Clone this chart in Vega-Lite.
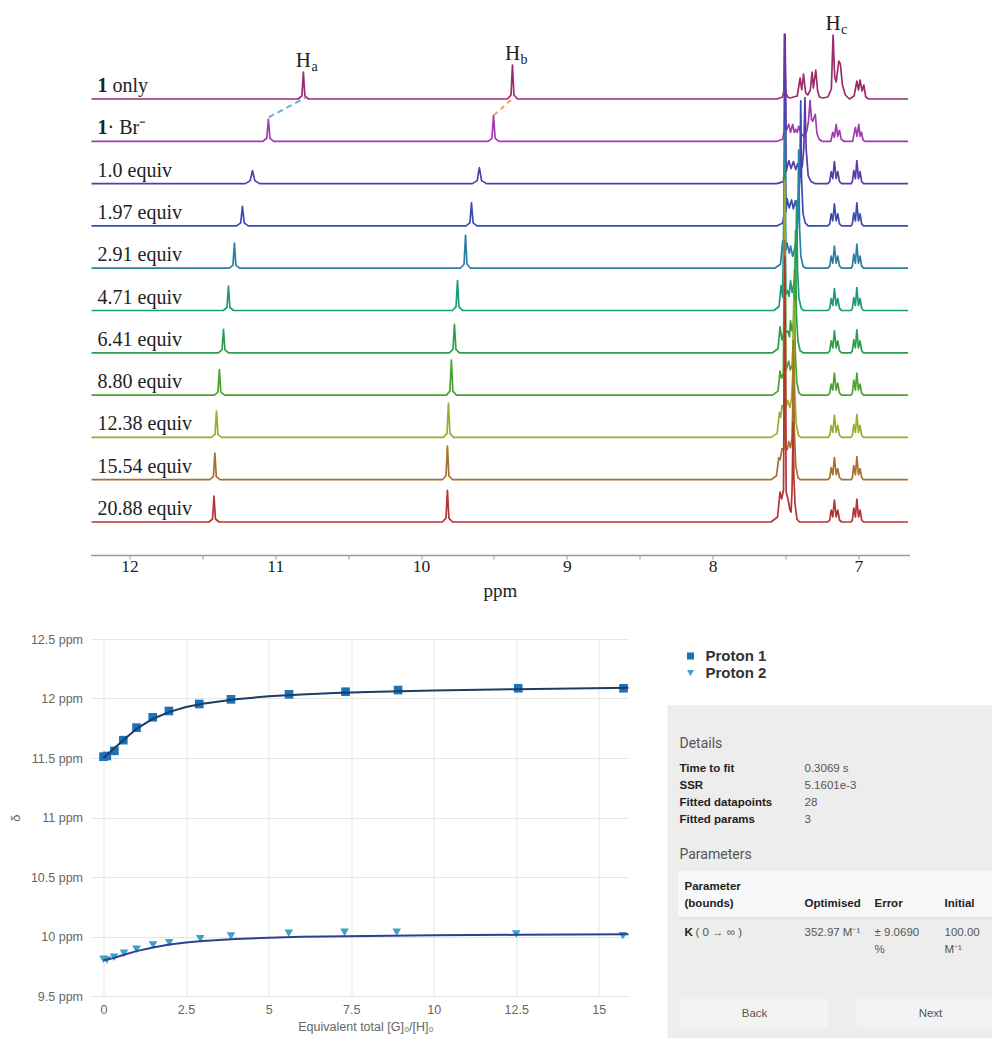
{
"$schema": "https://vega.github.io/schema/vega-lite/v6.json",
"background": "white",
"padding": {"left": 9.5, "top": 13, "right": 0, "bottom": 0},
"config": {"view": {"stroke": null}},
"columns": 1,
"align": "none",
"spacing": 32,
"concat": [
{
"data": {"values": [
{"i":0,"x":12.26,"y":0},{"i":0,"x":10.842,"y":0},{"i":0,"x":10.817,"y":3.2},{"i":0,"x":10.807,"y":27},{"i":0,"x":10.797,"y":3.2},{"i":0,"x":10.772,"y":0},
{"i":0,"x":9.408,"y":0},{"i":0,"x":9.383,"y":4},{"i":0,"x":9.373,"y":34},{"i":0,"x":9.363,"y":4},{"i":0,"x":9.338,"y":0},
{"i":0,"x":7.56,"y":0},{"i":0,"x":7.52,"y":2},{"i":0,"x":7.512,"y":8},{"i":0,"x":7.508,"y":65},{"i":0,"x":7.499,"y":6},{"i":0,"x":7.485,"y":2},{"i":0,"x":7.47,"y":1},{"i":0,"x":7.42,"y":3},{"i":0,"x":7.4,"y":21},{"i":0,"x":7.389,"y":9},{"i":0,"x":7.377,"y":25},{"i":0,"x":7.362,"y":6},{"i":0,"x":7.348,"y":4},{"i":0,"x":7.33,"y":9},{"i":0,"x":7.318,"y":27},{"i":0,"x":7.309,"y":11},{"i":0,"x":7.293,"y":29},{"i":0,"x":7.28,"y":8},{"i":0,"x":7.268,"y":2},{"i":0,"x":7.245,"y":1},{"i":0,"x":7.21,"y":2},{"i":0,"x":7.186,"y":10},{"i":0,"x":7.174,"y":64},{"i":0,"x":7.163,"y":22},{"i":0,"x":7.153,"y":17},{"i":0,"x":7.135,"y":38},{"i":0,"x":7.124,"y":35},{"i":0,"x":7.11,"y":14},{"i":0,"x":7.09,"y":4},{"i":0,"x":7.062,"y":0},{"i":0,"x":7.03,"y":3},{"i":0,"x":7.011,"y":18},{"i":0,"x":7.0,"y":9},{"i":0,"x":6.989,"y":19},{"i":0,"x":6.975,"y":8},{"i":0,"x":6.963,"y":14},{"i":0,"x":6.95,"y":2},{"i":0,"x":6.93,"y":0},{"i":0,"x":6.66,"y":0},

{"i":1,"x":12.26,"y":0},{"i":1,"x":11.085,"y":0},{"i":1,"x":11.058,"y":3},{"i":1,"x":11.047,"y":22},{"i":1,"x":11.036,"y":3},{"i":1,"x":11.01,"y":0},
{"i":1,"x":9.54,"y":0},{"i":1,"x":9.514,"y":3},{"i":1,"x":9.503,"y":26},{"i":1,"x":9.492,"y":3},{"i":1,"x":9.466,"y":0},
{"i":1,"x":7.56,"y":0},{"i":1,"x":7.52,"y":2},{"i":1,"x":7.51,"y":10},{"i":1,"x":7.504,"y":107},{"i":1,"x":7.497,"y":10},{"i":1,"x":7.478,"y":17},{"i":1,"x":7.466,"y":9},{"i":1,"x":7.451,"y":17},{"i":1,"x":7.44,"y":9},{"i":1,"x":7.43,"y":12},{"i":1,"x":7.42,"y":9},{"i":1,"x":7.41,"y":15},{"i":1,"x":7.395,"y":8},{"i":1,"x":7.375,"y":5},{"i":1,"x":7.355,"y":10},{"i":1,"x":7.343,"y":20},{"i":1,"x":7.332,"y":41},{"i":1,"x":7.322,"y":22},{"i":1,"x":7.314,"y":20},{"i":1,"x":7.296,"y":27},{"i":1,"x":7.285,"y":8},{"i":1,"x":7.27,"y":2},{"i":1,"x":7.25,"y":0},{"i":1,"x":7.19,"y":0},{"i":1,"x":7.176,"y":9},{"i":1,"x":7.165,"y":4},{"i":1,"x":7.153,"y":17},{"i":1,"x":7.142,"y":5},{"i":1,"x":7.13,"y":11},{"i":1,"x":7.118,"y":2},{"i":1,"x":7.1,"y":0},{"i":1,"x":7.04,"y":0},{"i":1,"x":7.021,"y":14},{"i":1,"x":7.01,"y":5},{"i":1,"x":6.998,"y":17},{"i":1,"x":6.988,"y":5},{"i":1,"x":6.98,"y":9},{"i":1,"x":6.968,"y":1},{"i":1,"x":6.955,"y":0},{"i":1,"x":6.66,"y":0},

{"i":2,"x":12.26,"y":0},{"i":2,"x":11.205,"y":0},{"i":2,"x":11.172,"y":3},{"i":2,"x":11.156,"y":13},{"i":2,"x":11.14,"y":3},{"i":2,"x":11.107,"y":0},
{"i":2,"x":9.648,"y":0},{"i":2,"x":9.615,"y":3},{"i":2,"x":9.6,"y":16},{"i":2,"x":9.585,"y":3},{"i":2,"x":9.552,"y":0},
{"i":2,"x":7.56,"y":0},{"i":2,"x":7.515,"y":2},{"i":2,"x":7.509,"y":12},{"i":2,"x":7.503,"y":149},{"i":2,"x":7.496,"y":12},{"i":2,"x":7.478,"y":23},{"i":2,"x":7.462,"y":15},{"i":2,"x":7.446,"y":22},{"i":2,"x":7.43,"y":14},{"i":2,"x":7.416,"y":20},{"i":2,"x":7.4,"y":12},{"i":2,"x":7.385,"y":18},{"i":2,"x":7.375,"y":35},{"i":2,"x":7.367,"y":86},{"i":2,"x":7.359,"y":35},{"i":2,"x":7.345,"y":8},{"i":2,"x":7.325,"y":2},{"i":2,"x":7.3,"y":0},
{"i":2,"x":7.21,"y":0},{"i":2,"x":7.197,"y":2},{"i":2,"x":7.187,"y":12},{"i":2,"x":7.176,"y":5},{"i":2,"x":7.165,"y":22},{"i":2,"x":7.153,"y":5},{"i":2,"x":7.142,"y":12},{"i":2,"x":7.13,"y":2},{"i":2,"x":7.115,"y":0},{"i":2,"x":7.05,"y":0},{"i":2,"x":7.042,"y":2},{"i":2,"x":7.032,"y":13},{"i":2,"x":7.021,"y":5},{"i":2,"x":7.011,"y":23},{"i":2,"x":7.0,"y":5},{"i":2,"x":6.989,"y":12},{"i":2,"x":6.978,"y":2},{"i":2,"x":6.965,"y":0},{"i":2,"x":6.66,"y":0},

{"i":3,"x":12.26,"y":0},{"i":3,"x":11.265,"y":0},{"i":3,"x":11.237,"y":3},{"i":3,"x":11.225,"y":19.5},{"i":3,"x":11.213,"y":3},{"i":3,"x":11.185,"y":0},
{"i":3,"x":9.692,"y":0},{"i":3,"x":9.665,"y":3},{"i":3,"x":9.654,"y":23},{"i":3,"x":9.643,"y":3},{"i":3,"x":9.616,"y":0},
{"i":3,"x":7.56,"y":0},{"i":3,"x":7.52,"y":3},{"i":3,"x":7.509,"y":12},{"i":3,"x":7.504,"y":126},{"i":3,"x":7.497,"y":14},{"i":3,"x":7.489,"y":27},{"i":3,"x":7.475,"y":18},{"i":3,"x":7.459,"y":26},{"i":3,"x":7.447,"y":17},{"i":3,"x":7.434,"y":25},{"i":3,"x":7.42,"y":16},{"i":3,"x":7.41,"y":28},{"i":3,"x":7.402,"y":50},{"i":3,"x":7.396,"y":125},{"i":3,"x":7.39,"y":45},{"i":3,"x":7.38,"y":12},{"i":3,"x":7.365,"y":3},{"i":3,"x":7.345,"y":0},
{"i":3,"x":7.21,"y":0},{"i":3,"x":7.197,"y":2},{"i":3,"x":7.187,"y":12},{"i":3,"x":7.176,"y":5},{"i":3,"x":7.165,"y":22},{"i":3,"x":7.153,"y":5},{"i":3,"x":7.142,"y":12},{"i":3,"x":7.13,"y":2},{"i":3,"x":7.115,"y":0},{"i":3,"x":7.05,"y":0},{"i":3,"x":7.042,"y":2},{"i":3,"x":7.032,"y":13},{"i":3,"x":7.021,"y":5},{"i":3,"x":7.011,"y":23},{"i":3,"x":7.0,"y":5},{"i":3,"x":6.989,"y":12},{"i":3,"x":6.978,"y":2},{"i":3,"x":6.965,"y":0},{"i":3,"x":6.66,"y":0},

{"i":4,"x":12.26,"y":0},{"i":4,"x":11.315,"y":0},{"i":4,"x":11.29,"y":3},{"i":4,"x":11.28,"y":25},{"i":4,"x":11.27,"y":3},{"i":4,"x":11.245,"y":0},
{"i":4,"x":9.73,"y":0},{"i":4,"x":9.705,"y":4},{"i":4,"x":9.695,"y":33},{"i":4,"x":9.685,"y":4},{"i":4,"x":9.66,"y":0},
{"i":4,"x":7.575,"y":0},{"i":4,"x":7.535,"y":4},{"i":4,"x":7.52,"y":27},{"i":4,"x":7.512,"y":16},{"i":4,"x":7.505,"y":138},{"i":4,"x":7.498,"y":18},{"i":4,"x":7.489,"y":25},{"i":4,"x":7.475,"y":15},{"i":4,"x":7.465,"y":22},{"i":4,"x":7.452,"y":12},{"i":4,"x":7.44,"y":18},{"i":4,"x":7.425,"y":28},{"i":4,"x":7.416,"y":50},{"i":4,"x":7.41,"y":118},{"i":4,"x":7.404,"y":40},{"i":4,"x":7.395,"y":12},{"i":4,"x":7.38,"y":2},{"i":4,"x":7.36,"y":0},
{"i":4,"x":7.21,"y":0},{"i":4,"x":7.197,"y":2},{"i":4,"x":7.187,"y":12},{"i":4,"x":7.176,"y":5},{"i":4,"x":7.165,"y":22},{"i":4,"x":7.153,"y":5},{"i":4,"x":7.142,"y":12},{"i":4,"x":7.13,"y":2},{"i":4,"x":7.115,"y":0},{"i":4,"x":7.05,"y":0},{"i":4,"x":7.042,"y":2},{"i":4,"x":7.032,"y":14},{"i":4,"x":7.021,"y":5},{"i":4,"x":7.011,"y":24},{"i":4,"x":7.0,"y":5},{"i":4,"x":6.989,"y":12},{"i":4,"x":6.978,"y":2},{"i":4,"x":6.965,"y":0},{"i":4,"x":6.66,"y":0},

{"i":5,"x":12.26,"y":0},{"i":5,"x":11.356,"y":0},{"i":5,"x":11.331,"y":3},{"i":5,"x":11.321,"y":24.5},{"i":5,"x":11.311,"y":3},{"i":5,"x":11.286,"y":0},
{"i":5,"x":9.785,"y":0},{"i":5,"x":9.76,"y":3.6},{"i":5,"x":9.75,"y":30},{"i":5,"x":9.74,"y":3.6},{"i":5,"x":9.715,"y":0},
{"i":5,"x":7.58,"y":0},{"i":5,"x":7.545,"y":4},{"i":5,"x":7.531,"y":25},{"i":5,"x":7.52,"y":13},{"i":5,"x":7.507,"y":150},{"i":5,"x":7.498,"y":16},{"i":5,"x":7.487,"y":20},{"i":5,"x":7.476,"y":14},{"i":5,"x":7.466,"y":30},{"i":5,"x":7.455,"y":18},{"i":5,"x":7.445,"y":25},{"i":5,"x":7.435,"y":35},{"i":5,"x":7.429,"y":55},{"i":5,"x":7.424,"y":110},{"i":5,"x":7.418,"y":40},{"i":5,"x":7.408,"y":12},{"i":5,"x":7.392,"y":2},{"i":5,"x":7.375,"y":0},
{"i":5,"x":7.21,"y":0},{"i":5,"x":7.197,"y":2},{"i":5,"x":7.187,"y":12},{"i":5,"x":7.176,"y":5},{"i":5,"x":7.165,"y":22},{"i":5,"x":7.153,"y":5},{"i":5,"x":7.142,"y":12},{"i":5,"x":7.13,"y":2},{"i":5,"x":7.115,"y":0},{"i":5,"x":7.05,"y":0},{"i":5,"x":7.042,"y":2},{"i":5,"x":7.032,"y":13},{"i":5,"x":7.021,"y":5},{"i":5,"x":7.011,"y":23},{"i":5,"x":7.0,"y":5},{"i":5,"x":6.989,"y":12},{"i":5,"x":6.978,"y":2},{"i":5,"x":6.965,"y":0},{"i":5,"x":6.66,"y":0},

{"i":6,"x":12.26,"y":0},{"i":6,"x":11.39,"y":0},{"i":6,"x":11.365,"y":3},{"i":6,"x":11.355,"y":23.5},{"i":6,"x":11.345,"y":3},{"i":6,"x":11.32,"y":0},
{"i":6,"x":9.806,"y":0},{"i":6,"x":9.781,"y":3.4},{"i":6,"x":9.771,"y":28.5},{"i":6,"x":9.761,"y":3.4},{"i":6,"x":9.736,"y":0},
{"i":6,"x":7.59,"y":0},{"i":6,"x":7.552,"y":4},{"i":6,"x":7.538,"y":26},{"i":6,"x":7.525,"y":13},{"i":6,"x":7.512,"y":20},{"i":6,"x":7.507,"y":178},{"i":6,"x":7.5,"y":20},{"i":6,"x":7.485,"y":22},{"i":6,"x":7.473,"y":16},{"i":6,"x":7.466,"y":32},{"i":6,"x":7.456,"y":22},{"i":6,"x":7.445,"y":30},{"i":6,"x":7.438,"y":55},{"i":6,"x":7.432,"y":122},{"i":6,"x":7.426,"y":40},{"i":6,"x":7.415,"y":12},{"i":6,"x":7.4,"y":2},{"i":6,"x":7.38,"y":0},
{"i":6,"x":7.21,"y":0},{"i":6,"x":7.197,"y":2},{"i":6,"x":7.187,"y":12},{"i":6,"x":7.176,"y":5},{"i":6,"x":7.165,"y":22},{"i":6,"x":7.153,"y":5},{"i":6,"x":7.142,"y":12},{"i":6,"x":7.13,"y":2},{"i":6,"x":7.115,"y":0},{"i":6,"x":7.05,"y":0},{"i":6,"x":7.042,"y":2},{"i":6,"x":7.032,"y":13},{"i":6,"x":7.021,"y":5},{"i":6,"x":7.011,"y":23},{"i":6,"x":7.0,"y":5},{"i":6,"x":6.989,"y":12},{"i":6,"x":6.978,"y":2},{"i":6,"x":6.965,"y":0},{"i":6,"x":6.66,"y":0},

{"i":7,"x":12.26,"y":0},{"i":7,"x":11.418,"y":0},{"i":7,"x":11.393,"y":3},{"i":7,"x":11.383,"y":25.5},{"i":7,"x":11.373,"y":3},{"i":7,"x":11.348,"y":0},
{"i":7,"x":9.827,"y":0},{"i":7,"x":9.802,"y":4},{"i":7,"x":9.792,"y":35},{"i":7,"x":9.782,"y":4},{"i":7,"x":9.757,"y":0},
{"i":7,"x":7.59,"y":0},{"i":7,"x":7.552,"y":4},{"i":7,"x":7.538,"y":24},{"i":7,"x":7.527,"y":17},{"i":7,"x":7.515,"y":22},{"i":7,"x":7.506,"y":215},{"i":7,"x":7.498,"y":24},{"i":7,"x":7.478,"y":34},{"i":7,"x":7.468,"y":25},{"i":7,"x":7.455,"y":30},{"i":7,"x":7.446,"y":60},{"i":7,"x":7.44,"y":125},{"i":7,"x":7.434,"y":45},{"i":7,"x":7.423,"y":13},{"i":7,"x":7.408,"y":2},{"i":7,"x":7.39,"y":0},
{"i":7,"x":7.21,"y":0},{"i":7,"x":7.197,"y":2},{"i":7,"x":7.187,"y":11},{"i":7,"x":7.176,"y":5},{"i":7,"x":7.165,"y":22},{"i":7,"x":7.153,"y":5},{"i":7,"x":7.142,"y":12},{"i":7,"x":7.13,"y":2},{"i":7,"x":7.115,"y":0},{"i":7,"x":7.05,"y":0},{"i":7,"x":7.042,"y":2},{"i":7,"x":7.032,"y":15},{"i":7,"x":7.021,"y":5},{"i":7,"x":7.011,"y":22},{"i":7,"x":7.0,"y":5},{"i":7,"x":6.989,"y":11},{"i":7,"x":6.978,"y":2},{"i":7,"x":6.965,"y":0},{"i":7,"x":6.66,"y":0},

{"i":8,"x":12.26,"y":0},{"i":8,"x":11.438,"y":0},{"i":8,"x":11.413,"y":3},{"i":8,"x":11.403,"y":26.4},{"i":8,"x":11.393,"y":3},{"i":8,"x":11.368,"y":0},
{"i":8,"x":9.847,"y":0},{"i":8,"x":9.822,"y":4},{"i":8,"x":9.812,"y":34.4},{"i":8,"x":9.802,"y":4},{"i":8,"x":9.777,"y":0},
{"i":8,"x":7.6,"y":0},{"i":8,"x":7.558,"y":4},{"i":8,"x":7.542,"y":25},{"i":8,"x":7.533,"y":20},{"i":8,"x":7.524,"y":32},{"i":8,"x":7.512,"y":28},{"i":8,"x":7.506,"y":257},{"i":8,"x":7.498,"y":30},{"i":8,"x":7.485,"y":37},{"i":8,"x":7.47,"y":30},{"i":8,"x":7.458,"y":40},{"i":8,"x":7.45,"y":65},{"i":8,"x":7.444,"y":137},{"i":8,"x":7.438,"y":50},{"i":8,"x":7.427,"y":14},{"i":8,"x":7.412,"y":2},{"i":8,"x":7.395,"y":0},
{"i":8,"x":7.21,"y":0},{"i":8,"x":7.197,"y":2},{"i":8,"x":7.187,"y":12},{"i":8,"x":7.176,"y":5},{"i":8,"x":7.165,"y":22},{"i":8,"x":7.153,"y":5},{"i":8,"x":7.142,"y":12},{"i":8,"x":7.13,"y":2},{"i":8,"x":7.115,"y":0},{"i":8,"x":7.05,"y":0},{"i":8,"x":7.042,"y":2},{"i":8,"x":7.032,"y":13},{"i":8,"x":7.021,"y":5},{"i":8,"x":7.011,"y":23},{"i":8,"x":7.0,"y":5},{"i":8,"x":6.989,"y":12},{"i":8,"x":6.978,"y":2},{"i":8,"x":6.965,"y":0},{"i":8,"x":6.66,"y":0},

{"i":9,"x":12.26,"y":0},{"i":9,"x":11.449,"y":0},{"i":9,"x":11.424,"y":3},{"i":9,"x":11.414,"y":26.7},{"i":9,"x":11.404,"y":3},{"i":9,"x":11.379,"y":0},
{"i":9,"x":9.854,"y":0},{"i":9,"x":9.829,"y":4},{"i":9,"x":9.819,"y":33.7},{"i":9,"x":9.809,"y":4},{"i":9,"x":9.784,"y":0},
{"i":9,"x":7.6,"y":0},{"i":9,"x":7.562,"y":4},{"i":9,"x":7.547,"y":22},{"i":9,"x":7.537,"y":20},{"i":9,"x":7.524,"y":31},{"i":9,"x":7.512,"y":30},{"i":9,"x":7.506,"y":239},{"i":9,"x":7.499,"y":33},{"i":9,"x":7.488,"y":30},{"i":9,"x":7.478,"y":38},{"i":9,"x":7.466,"y":32},{"i":9,"x":7.456,"y":42},{"i":9,"x":7.451,"y":70},{"i":9,"x":7.446,"y":139},{"i":9,"x":7.44,"y":50},{"i":9,"x":7.43,"y":14},{"i":9,"x":7.415,"y":2},{"i":9,"x":7.4,"y":0},
{"i":9,"x":7.21,"y":0},{"i":9,"x":7.197,"y":2},{"i":9,"x":7.187,"y":12},{"i":9,"x":7.176,"y":5},{"i":9,"x":7.165,"y":22},{"i":9,"x":7.153,"y":5},{"i":9,"x":7.142,"y":11},{"i":9,"x":7.13,"y":2},{"i":9,"x":7.115,"y":0},{"i":9,"x":7.05,"y":0},{"i":9,"x":7.042,"y":2},{"i":9,"x":7.032,"y":14},{"i":9,"x":7.021,"y":5},{"i":9,"x":7.011,"y":23},{"i":9,"x":7.0,"y":5},{"i":9,"x":6.989,"y":11},{"i":9,"x":6.978,"y":2},{"i":9,"x":6.965,"y":0},{"i":9,"x":6.66,"y":0},

{"i":10,"x":12.26,"y":0},{"i":10,"x":11.455,"y":0},{"i":10,"x":11.43,"y":3},{"i":10,"x":11.42,"y":26},{"i":10,"x":11.41,"y":3},{"i":10,"x":11.385,"y":0},
{"i":10,"x":9.854,"y":0},{"i":10,"x":9.829,"y":3.8},{"i":10,"x":9.819,"y":31.7},{"i":10,"x":9.809,"y":3.8},{"i":10,"x":9.784,"y":0},
{"i":10,"x":7.6,"y":0},{"i":10,"x":7.555,"y":5},{"i":10,"x":7.538,"y":30},{"i":10,"x":7.527,"y":23},{"i":10,"x":7.514,"y":32},{"i":10,"x":7.505,"y":265},{"i":10,"x":7.496,"y":30},{"i":10,"x":7.482,"y":22},{"i":10,"x":7.47,"y":12},{"i":10,"x":7.462,"y":10},{"i":10,"x":7.456,"y":30},{"i":10,"x":7.452,"y":60},{"i":10,"x":7.448,"y":100},{"i":10,"x":7.443,"y":45},{"i":10,"x":7.435,"y":18},{"i":10,"x":7.422,"y":3},{"i":10,"x":7.405,"y":0},
{"i":10,"x":7.21,"y":0},{"i":10,"x":7.197,"y":2},{"i":10,"x":7.187,"y":12},{"i":10,"x":7.176,"y":5},{"i":10,"x":7.165,"y":22},{"i":10,"x":7.153,"y":5},{"i":10,"x":7.142,"y":12},{"i":10,"x":7.13,"y":2},{"i":10,"x":7.115,"y":0},{"i":10,"x":7.05,"y":0},{"i":10,"x":7.042,"y":2},{"i":10,"x":7.032,"y":14},{"i":10,"x":7.021,"y":5},{"i":10,"x":7.011,"y":23},{"i":10,"x":7.0,"y":5},{"i":10,"x":6.989,"y":12},{"i":10,"x":6.978,"y":2},{"i":10,"x":6.965,"y":0},{"i":10,"x":6.66,"y":0},

{"i":1,"g":"a","x":10.788,"y":44},{"i":1,"g":"a","x":11.045,"y":24},
{"i":1,"g":"b","x":9.371,"y":43},{"i":1,"g":"b","x":9.501,"y":26},

{"i":0,"h":"H","sub":"a","hx":10.807,"ph":27},{"i":0,"h":"H","sub":"b","hx":9.373,"ph":34},{"i":0,"h":"H","sub":"c","hx":7.174,"ph":64},

{"i":0,"b":"1","lab":"only"},{"i":1,"b":"1","lab":"· Br⁻"},{"i":2,"lab":"1.0 equiv"},{"i":3,"lab":"1.97 equiv"},{"i":4,"lab":"2.91 equiv"},{"i":5,"lab":"4.71 equiv"},{"i":6,"lab":"6.41 equiv"},{"i":7,"lab":"8.80 equiv"},{"i":8,"lab":"12.38 equiv"},{"i":9,"lab":"15.54 equiv"},{"i":10,"lab":"20.88 equiv"}
]},
"facet": {"row": {"field": "i", "type": "ordinal", "header": {"title": null, "labels": false}}},
"spacing": {"row": 0.3},
"bounds": "flush",
"spec": {
  "width": 819, "height": 42,
  "encoding": {
    "x": {"field": "x", "type": "quantitative",
      "scale": {"domain": [6.65, 12.267], "reverse": true, "nice": false, "zero": false},
      "axis": {"values": [12, 11.5, 11, 10.5, 10, 9.5, 9, 8.5, 8, 7.5, 7],
        "labelExpr": "datum.value % 1 == 0 ? format(datum.value, 'd') : ''",
        "offset": 32, "grid": false, "domainColor": "#9a9a9a", "domainWidth": 1.5, "tickColor": "#9a9a9a", "tickSize": 4,
        "labelFont": "Liberation Serif", "labelFontSize": 17.5, "labelColor": "#222", "labelPadding": -2,
        "title": "ppm", "titleFont": "Liberation Serif", "titleFontSize": 19, "titleFontWeight": "normal", "titleColor": "#222", "titlePadding": 7}},
    "y": {"field": "y", "type": "quantitative",
      "scale": {"domain": [0, 42], "nice": false, "zero": false},
      "axis": {"labels": false, "ticks": false, "domain": false, "grid": false, "title": null, "minExtent": 62, "maxExtent": 62}}
  },
  "layer": [
    {"transform": [{"filter": "isValid(datum.y) && !isValid(datum.g)"}],
     "mark": {"type": "line", "strokeWidth": 1.7, "strokeJoin": "round", "clip": false},
     "encoding": {"color": {"field": "i", "type": "nominal", "legend": null,
       "scale": {"domain": [0,1,2,3,4,5,6,7,8,9,10], "range": ["#9c2b6e","#a03cb0","#5b3ba6","#3a4cb0","#2b7fa3","#1b9a7c","#2f9e48","#4aa332","#9eab2c","#a8702c","#b53434"]}}}},
    {"transform": [{"filter": "datum.g == 'a'"}],
     "mark": {"type": "line", "color": "#6aaee2", "strokeWidth": 2, "strokeDash": [6, 4]}},
    {"transform": [{"filter": "datum.g == 'b'"}],
     "mark": {"type": "line", "color": "#f2a064", "strokeWidth": 2, "strokeDash": [5, 4]}},
    {"transform": [
       {"joinaggregate": [{"op": "max", "field": "x", "as": "x0"}, {"op": "min", "field": "y", "as": "y0"}], "groupby": ["i"]},
       {"filter": "isValid(datum.lab) && !isValid(datum.b)"}],
     "mark": {"type": "text", "align": "left", "baseline": "alphabetic", "font": "Liberation Serif", "fontSize": 20, "color": "#222", "dx": 6, "dy": -7},
     "encoding": {"x": {"field": "x0", "type": "quantitative"}, "y": {"field": "y0", "type": "quantitative"}, "text": {"field": "lab"}}},
    {"transform": [
       {"joinaggregate": [{"op": "max", "field": "x", "as": "x0"}, {"op": "min", "field": "y", "as": "y0"}], "groupby": ["i"]},
       {"filter": "isValid(datum.b)"}],
     "mark": {"type": "text", "align": "left", "baseline": "alphabetic", "font": "Liberation Serif", "fontSize": 20, "fontWeight": "bold", "color": "#222", "dx": 6, "dy": -7},
     "encoding": {"x": {"field": "x0", "type": "quantitative"}, "y": {"field": "y0", "type": "quantitative"}, "text": {"field": "b"}}},
    {"transform": [
       {"joinaggregate": [{"op": "max", "field": "x", "as": "x0"}, {"op": "min", "field": "y", "as": "y0"}], "groupby": ["i"]},
       {"filter": "isValid(datum.b) && datum.i == 0"}],
     "mark": {"type": "text", "align": "left", "baseline": "alphabetic", "font": "Liberation Serif", "fontSize": 20, "color": "#222", "dx": 21, "dy": -7},
     "encoding": {"x": {"field": "x0", "type": "quantitative"}, "y": {"field": "y0", "type": "quantitative"}, "text": {"field": "lab"}}},
    {"transform": [
       {"joinaggregate": [{"op": "max", "field": "x", "as": "x0"}, {"op": "min", "field": "y", "as": "y0"}], "groupby": ["i"]},
       {"filter": "isValid(datum.b) && datum.i == 1"}],
     "mark": {"type": "text", "align": "left", "baseline": "alphabetic", "font": "Liberation Serif", "fontSize": 20, "color": "#222", "dx": 16, "dy": -7},
     "encoding": {"x": {"field": "x0", "type": "quantitative"}, "y": {"field": "y0", "type": "quantitative"}, "text": {"field": "lab"}}},
    {"transform": [{"filter": "isValid(datum.h)"}],
     "mark": {"type": "text", "align": "center", "baseline": "alphabetic", "font": "Liberation Serif", "fontSize": 21, "dy": -5, "color": "#222"},
     "encoding": {"x": {"field": "hx", "type": "quantitative"}, "y": {"field": "ph", "type": "quantitative"}, "text": {"field": "h"}}},
    {"transform": [{"filter": "isValid(datum.h)"}],
     "mark": {"type": "text", "align": "left", "baseline": "alphabetic", "font": "Liberation Serif", "fontSize": 14, "dx": 8, "dy": -1, "color": "#222"},
     "encoding": {"x": {"field": "hx", "type": "quantitative"}, "y": {"field": "ph", "type": "quantitative"}, "text": {"field": "sub"}}}
  ]
}
},
{
"spacing": 35,
"hconcat": [
{
  "width": 538, "height": 357,
  "layer": [
    {
      "data": {"values": [
        {"s":"Proton 1","x":0,"y":11.511},{"s":"Proton 1","x":0.1,"y":11.517},{"s":"Proton 1","x":0.33,"y":11.56},{"s":"Proton 1","x":0.6,"y":11.65},{"s":"Proton 1","x":1.0,"y":11.755},{"s":"Proton 1","x":1.49,"y":11.842},{"s":"Proton 1","x":1.98,"y":11.895},{"s":"Proton 1","x":2.9,"y":11.954},{"s":"Proton 1","x":3.86,"y":11.993},{"s":"Proton 1","x":5.62,"y":12.035},{"s":"Proton 1","x":7.33,"y":12.057},{"s":"Proton 1","x":8.92,"y":12.071},{"s":"Proton 1","x":12.56,"y":12.086},{"s":"Proton 1","x":15.75,"y":12.086},
        {"s":"Proton 2","x":0,"y":9.808},{"s":"Proton 2","x":0.1,"y":9.802},{"s":"Proton 2","x":0.32,"y":9.825},{"s":"Proton 2","x":0.62,"y":9.859},{"s":"Proton 2","x":1.0,"y":9.893},{"s":"Proton 2","x":1.5,"y":9.929},{"s":"Proton 2","x":1.99,"y":9.948},{"s":"Proton 2","x":2.93,"y":9.981},{"s":"Proton 2","x":3.86,"y":10.004},{"s":"Proton 2","x":5.61,"y":10.027},{"s":"Proton 2","x":7.3,"y":10.035},{"s":"Proton 2","x":8.88,"y":10.035},{"s":"Proton 2","x":12.5,"y":10.021},{"s":"Proton 2","x":15.73,"y":10.007}
      ]},
      "mark": {"type": "point", "filled": true, "opacity": 1, "size": 75},
      "encoding": {
        "x": {"field": "x", "type": "quantitative",
          "scale": {"domain": [-0.394, 15.9], "nice": false, "zero": false},
          "axis": {"values": [0, 2.5, 5, 7.5, 10, 12.5, 15], "labelExpr": "format(datum.value, '~g')", "grid": true, "gridColor": "#e6e6e6", "domain": false, "ticks": false,
            "labelColor": "#666", "labelFont": "Liberation Sans", "labelFontSize": 12.5, "labelPadding": 7,
            "title": "Equivalent total [G]₀/[H]₀", "titleColor": "#666", "titleFont": "Liberation Sans", "titleFontSize": 12.5, "titleFontWeight": "normal", "titlePadding": 5, "titleX": 275}},
        "y": {"field": "y", "type": "quantitative",
          "scale": {"domain": [9.5, 12.5], "nice": false, "zero": false},
          "axis": {"values": [9.5, 10, 10.5, 11, 11.5, 12, 12.5], "labelExpr": "format(datum.value, '~g') + ' ppm'", "grid": true, "gridColor": "#e6e6e6", "domain": false,
            "ticks": false,
            "labelColor": "#666", "labelFont": "Liberation Sans", "labelFontSize": 12.5, "labelPadding": 8,
            "title": "δ", "titleColor": "#666", "titleFont": "Liberation Sans", "titleFontSize": 13, "titleFontWeight": "normal", "titlePadding": 7.5}},
        "shape": {"field": "s", "type": "nominal", "legend": null, "scale": {"domain": ["Proton 1", "Proton 2"], "range": ["square", "triangle-down"]}},
        "fill": {"field": "s", "type": "nominal", "legend": null, "scale": {"domain": ["Proton 1", "Proton 2"], "range": ["#1b73b9", "#3da3c6"]}}
      }
    },
    {
      "data": {"values": [
        {"s":"Proton 1","x":0,"y":11.5},{"s":"Proton 1","x":0.3,"y":11.575},{"s":"Proton 1","x":0.6,"y":11.65},{"s":"Proton 1","x":1.0,"y":11.745},{"s":"Proton 1","x":1.5,"y":11.83},{"s":"Proton 1","x":2.0,"y":11.888},{"s":"Proton 1","x":2.5,"y":11.928},{"s":"Proton 1","x":3.0,"y":11.956},{"s":"Proton 1","x":4.0,"y":11.994},{"s":"Proton 1","x":5.0,"y":12.018},{"s":"Proton 1","x":6.0,"y":12.034},{"s":"Proton 1","x":7.0,"y":12.046},{"s":"Proton 1","x":8.0,"y":12.055},{"s":"Proton 1","x":10.0,"y":12.068},{"s":"Proton 1","x":12.5,"y":12.078},{"s":"Proton 1","x":15.9,"y":12.09},
        {"s":"Proton 2","x":0,"y":9.8},{"s":"Proton 2","x":0.3,"y":9.818},{"s":"Proton 2","x":0.6,"y":9.845},{"s":"Proton 2","x":1.0,"y":9.877},{"s":"Proton 2","x":1.5,"y":9.908},{"s":"Proton 2","x":2.0,"y":9.932},{"s":"Proton 2","x":2.5,"y":9.95},{"s":"Proton 2","x":3.0,"y":9.963},{"s":"Proton 2","x":4.0,"y":9.98},{"s":"Proton 2","x":5.0,"y":9.99},{"s":"Proton 2","x":6.0,"y":9.997},{"s":"Proton 2","x":8.0,"y":10.005},{"s":"Proton 2","x":10.0,"y":10.01},{"s":"Proton 2","x":12.5,"y":10.014},{"s":"Proton 2","x":15.9,"y":10.018}
      ]},
      "mark": {"type": "line", "strokeWidth": 2},
      "encoding": {
        "x": {"field": "x", "type": "quantitative"},
        "y": {"field": "y", "type": "quantitative"},
        "stroke": {"field": "s", "type": "nominal", "legend": null, "scale": {"domain": ["Proton 1", "Proton 2"], "range": ["#1b3d63", "#2f3f90"]}}
      }
    }
  ]
},
{
  "spacing": 15,
  "vconcat": [
    {
      "width": 46, "height": 51,
      "data": {"values": [{"s": "Proton 1"}, {"s": "Proton 2"}]},
      "encoding": {"y": {"field": "s", "type": "nominal", "axis": null, "scale": {"type": "point", "domain": ["Proton 1", "Proton 2"], "range": [17, 34], "padding": 0}}},
      "layer": [
        {"mark": {"type": "point", "filled": true, "opacity": 1, "size": 50},
         "encoding": {
           "shape": {"field": "s", "type": "nominal", "legend": null, "scale": {"domain": ["Proton 1", "Proton 2"], "range": ["square", "triangle-down"]}},
           "fill": {"field": "s", "type": "nominal", "legend": null, "scale": {"domain": ["Proton 1", "Proton 2"], "range": ["#1b73b9", "#3da3c6"]}}}},
        {"mark": {"type": "text", "align": "left", "dx": 15, "font": "Liberation Sans", "fontSize": 15, "fontWeight": "bold", "color": "#333"},
         "encoding": {"text": {"field": "s"}}}
      ]
    },
    {
      "width": 326, "height": 333,
      "layer": [
        {
          "data": {"values": [{"part": "panel"}]},
          "encoding": {
            "x": {"datum": 0, "type": "quantitative", "scale": {"domain": [0, 1], "nice": false, "zero": false}, "axis": null},
            "x2": {"datum": 1},
            "y": {"datum": 0, "type": "quantitative", "scale": {"domain": [0, 1], "reverse": true, "nice": false, "zero": false}, "axis": null},
            "y2": {"datum": 1}
          },
          "layer": [
            {"mark": {"type": "rect", "color": "#ededed"}},
            {"mark": {"type": "rect", "color": "#f8f8f8"},
             "encoding": {"x": {"datum": 0.033, "type": "quantitative"}, "y": {"datum": 0.4976, "type": "quantitative"}, "y2": {"datum": 0.6366}}},
            {"mark": {"type": "rect", "color": "#e1e1e1"},
             "encoding": {"x": {"datum": 0.033, "type": "quantitative"}, "y": {"datum": 0.6366, "type": "quantitative"}, "y2": {"datum": 0.642}}},
            {"mark": {"type": "rect", "color": "#f3f3f3"},
             "encoding": {"x": {"datum": 0.0368, "type": "quantitative"}, "x2": {"datum": 0.4939}, "y": {"datum": 0.883, "type": "quantitative"}, "y2": {"datum": 0.967}}},
            {"mark": {"type": "rect", "color": "#f3f3f3"},
             "encoding": {"x": {"datum": 0.5798, "type": "quantitative"}, "y": {"datum": 0.883, "type": "quantitative"}, "y2": {"datum": 0.967}}}
          ]
        },
        {
          "data": {"values": [
            {"k":"h1","r":"r0","c":"c0","t":"Details"},
            {"k":"key","r":"r1","c":"c0","t":"Time to fit"},{"k":"val","r":"r1","c":"c2","t":"0.3069 s"},
            {"k":"key","r":"r2","c":"c0","t":"SSR"},{"k":"val","r":"r2","c":"c2","t":"5.1601e-3"},
            {"k":"key","r":"r3","c":"c0","t":"Fitted datapoints"},{"k":"val","r":"r3","c":"c2","t":"28"},
            {"k":"key","r":"r4","c":"c0","t":"Fitted params"},{"k":"val","r":"r4","c":"c2","t":"3"},
            {"k":"h2","r":"r6","c":"c0","t":"Parameters"},
            {"k":"hdr0","r":"r8","c":"c0","t":"Parameter"},{"k":"hdr0","r":"r9","c":"c0","t":"(bounds)"},
            {"k":"hdr","r":"r9","c":"c2","t":"Optimised"},{"k":"hdr","r":"r9","c":"c3","t":"Error"},{"k":"hdr","r":"r9","c":"c4","t":"Initial"},
            {"k":"kb","r":"r11","c":"c0","t":"K"},{"k":"kr","r":"r11","c":"c0","t":"( 0 → ∞ )"},
            {"k":"cell","r":"r11","c":"c2","t":"352.97 M⁻¹"},{"k":"cell","r":"r11","c":"c3","t":"± 9.0690"},{"k":"cell","r":"r12","c":"c3","t":"%"},
            {"k":"cell","r":"r11","c":"c4","t":"100.00"},{"k":"cell","r":"r12","c":"c4","t":"M⁻¹"},
            {"k":"btnl","r":"r15","c":"c1","t":"Back"},{"k":"btnr","r":"r15","c":"c4","t":"Next"}
          ]},
          "encoding": {
            "x": {"field": "c", "type": "nominal", "axis": null, "scale": {"type": "point", "domain": ["c0","c1","c2","c3","c4"], "range": [-3, 277], "padding": 0}},
            "y": {"field": "r", "type": "nominal", "axis": null, "scale": {"type": "point", "domain": ["r0","r1","r2","r3","r4","r5","r6","r7","r8","r9","r10","r11","r12","r13","r14","r15"], "range": [47.1, 300.6], "padding": 0}},
            "text": {"field": "t"}
          },
          "layer": [
            {"transform": [{"filter": "datum.k == 'h1'"}], "mark": {"type": "text", "align": "left", "dx": 15, "dy": -8, "font": "Roboto", "fontSize": 14, "color": "#555"}},
            {"transform": [{"filter": "datum.k == 'h2'"}], "mark": {"type": "text", "align": "left", "dx": 15, "dy": 1.5, "font": "Roboto", "fontSize": 14, "color": "#555"}},
            {"transform": [{"filter": "datum.k == 'key'"}], "mark": {"type": "text", "align": "left", "dx": 15, "font": "Liberation Sans", "fontSize": 11.5, "fontWeight": "bold", "color": "#222"}},
            {"transform": [{"filter": "datum.k == 'val'"}], "mark": {"type": "text", "align": "left", "font": "Liberation Sans", "fontSize": 11.5, "color": "#555"}},
            {"transform": [{"filter": "datum.k == 'hdr0'"}], "mark": {"type": "text", "align": "left", "dx": 20, "font": "Liberation Sans", "fontSize": 11.5, "fontWeight": "bold", "color": "#222"}},
            {"transform": [{"filter": "datum.k == 'hdr'"}], "mark": {"type": "text", "align": "left", "font": "Liberation Sans", "fontSize": 11.5, "fontWeight": "bold", "color": "#222"}},
            {"transform": [{"filter": "datum.k == 'kb'"}], "mark": {"type": "text", "align": "left", "dx": 20, "dy": -5, "font": "Liberation Sans", "fontSize": 11.5, "fontWeight": "bold", "color": "#222"}},
            {"transform": [{"filter": "datum.k == 'kr'"}], "mark": {"type": "text", "align": "left", "dx": 31, "dy": -5, "font": "Liberation Sans", "fontSize": 11.5, "color": "#555"}},
            {"transform": [{"filter": "datum.k == 'cell'"}], "mark": {"type": "text", "align": "left", "dy": -5, "font": "Liberation Sans", "fontSize": 11.5, "color": "#555"}},
            {"transform": [{"filter": "datum.k == 'btnl'"}], "mark": {"type": "text", "align": "center", "dx": 20, "dy": 8, "font": "Liberation Sans", "fontSize": 11.5, "color": "#555"}},
            {"transform": [{"filter": "datum.k == 'btnr'"}], "mark": {"type": "text", "align": "center", "dx": -14, "dy": 8, "font": "Liberation Sans", "fontSize": 11.5, "color": "#555"}}
          ]
        }
      ],
      "resolve": {"scale": {"x": "independent", "y": "independent"}}
    }
  ]
}
]
}
]
}
